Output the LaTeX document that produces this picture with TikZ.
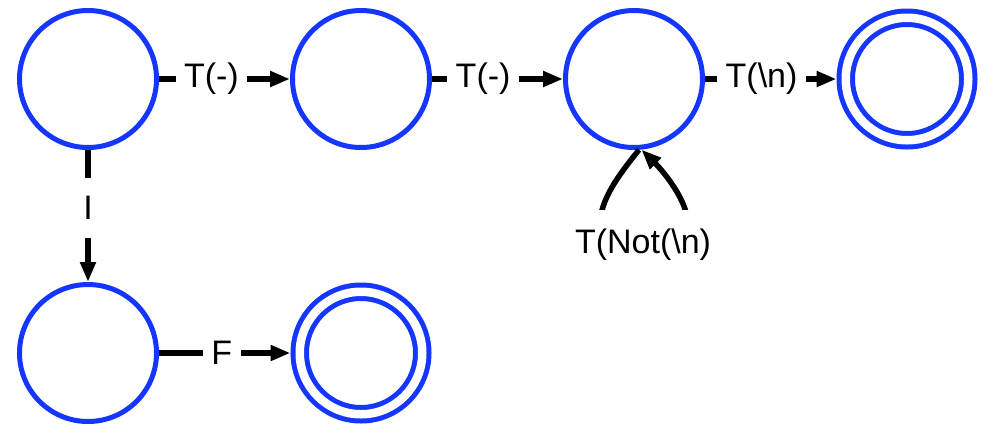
\documentclass[tikz,border=0pt]{standalone}
\usepackage{fontspec}
\setmainfont{Liberation Sans}
\usetikzlibrary{arrows.meta}
\definecolor{stblue}{HTML}{1436FF}
\begin{document}
\begin{tikzpicture}[x=1pt,y=-1pt,
  state/.style={circle, draw=stblue, line width=5pt, minimum size=137pt, inner sep=0pt},
  accept/.style={circle, draw=stblue, line width=5pt, double=white, double distance=8.5pt, minimum size=122.5pt, inner sep=0pt, outer sep=9.25pt},
  edge/.style={line width=5.5pt, -{Triangle[length=20pt,width=15pt]}},
  lab/.style={fill=white, inner xsep=8.5pt, inner ysep=18.5pt, font=\fontsize{34}{40}\selectfont, text=black}]
\useasboundingbox (0,0) rectangle (986,424);

\node[state]  (c1) at (88,79) {};
\node[state]  (c2) at (361,79) {};
\node[state]  (c3) at (634,79) {};
\node[accept] (c4) at (907,79) {};
\node[state]  (c5) at (88,353) {};
\node[accept] (c6) at (361,353) {};

\draw[edge] (c1) -- node[lab, pos=0.40] {T(-)} (c2);
\draw[edge] (c2) -- node[lab, pos=0.39] {T(-)} (c3);
\draw[edge] (c3) -- node[lab, pos=0.43] {T(\textbackslash n)} (c4);
\draw[edge] (c1) -- node[lab, pos=0.44] {I} (c5);
\draw[edge] (c5) -- node[lab, pos=0.477] {F} (c6);

\coordinate (lpA) at (600,225);
\coordinate (lpB) at (600,245);
\coordinate (lpC) at (688,245);
\coordinate (lpD) at (688,225);
\draw[edge] (c3.-86) .. controls (618,176) and (600,200) .. (lpA) -- (lpB) -- (lpC) -- (lpD)
  .. controls (688,200) and (662,170) .. (c3.-84);
\node[lab, anchor=base] (loopl) at (643,253) {T(Not(\textbackslash n)};
\end{tikzpicture}
\end{document}
